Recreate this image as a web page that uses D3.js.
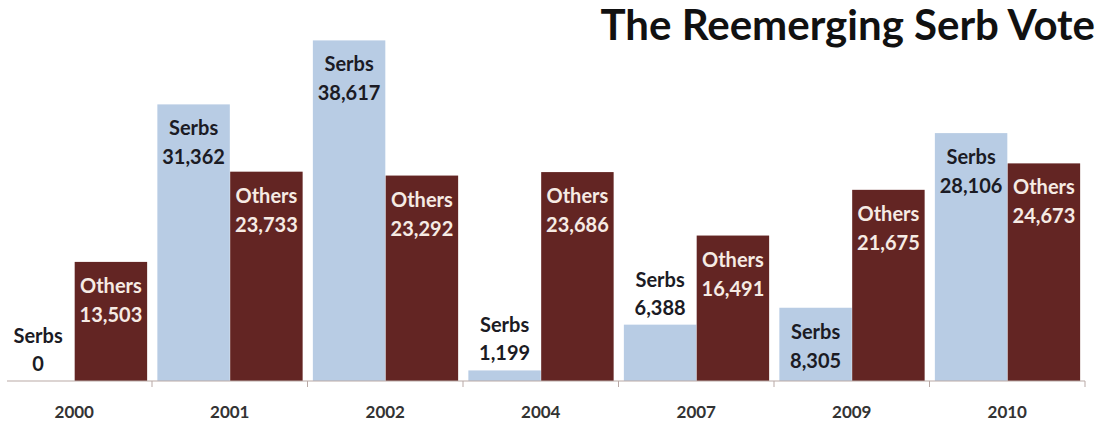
<!DOCTYPE html>
<html>
<head>
<meta charset="utf-8">
<script src="https://cdn.jsdelivr.net/npm/d3@7"></script>
<style>
  html, body { margin: 0; padding: 0; background: #ffffff; }
  svg { display: block; }
  text { font-family: Lato, "Open Sans", sans-serif; font-weight: bold; }
</style>
</head>
<body>
<svg id="chart" width="1103" height="424"></svg>
<script>
// Election years and vote counts
const years = ["2000", "2001", "2002", "2004", "2007", "2009", "2010"];
const seriesNames = ["Serbs", "Others"];
const serbsVotes = [0, 31362, 38617, 1199, 6388, 8305, 28106];
const othersVotes = [13503, 23733, 23292, 23686, 16491, 21675, 24673];
const chartTitle = "The Reemerging Serb Vote";

const rows = years.map((yr, i) => ({
  year: yr,
  values: [
    { key: "Serbs", value: serbsVotes[i] },
    { key: "Others", value: othersVotes[i] }
  ]
}));

const svg = d3.select("#chart");
const baseY = 381;

const x0 = d3.scaleBand().domain(years).range([-3.5, 1085]).paddingInner(0).paddingOuter(0);
const x1 = d3.scaleBand().domain(seriesNames).range([5, x0.bandwidth() - 4.5]).padding(0.005);
const y = d3.scaleLinear().domain([0, 40000]).range([baseY, baseY - 352.8]);

const fill = d3.scaleOrdinal().domain(seriesNames).range(["#b8cce4", "#632523"]);
const labelFill = d3.scaleOrdinal().domain(seriesNames).range(["#1b1b24", "#f6ebe4"]);

// Title
svg.append("text")
  .attr("x", 1095)
  .attr("y", 40)
  .attr("text-anchor", "end")
  .attr("fill", "#111111")
  .style("font-size", "42px")
  .text(chartTitle);

// Bars
const groups = svg.append("g").selectAll("g")
  .data(rows)
  .join("g")
  .attr("transform", d => `translate(${x0(d.year)},0)`);

groups.selectAll("rect")
  .data(d => d.values)
  .join("rect")
  .attr("x", d => x1(d.key))
  .attr("y", d => y(d.value))
  .attr("width", x1.bandwidth())
  .attr("height", d => y(0) - y(d.value))
  .attr("fill", d => fill(d.key));

// Two-line data labels: inside the top of tall bars, above short bars
groups.selectAll("g.lbl")
  .data(d => d.values)
  .join("g")
  .attr("class", "lbl")
  .each(function (d) {
    const top = y(d.value);
    const inside = (y(0) - top) >= 65;
    const b1 = inside ? top + 31 : top - 38;
    const b2 = inside ? top + 60 : top - 10;
    const cx = x1(d.key) + x1.bandwidth() / 2;
    const col = inside ? labelFill(d.key) : "#1b1b24";
    const g = d3.select(this);
    g.append("text")
      .attr("x", cx).attr("y", b1)
      .attr("text-anchor", "middle")
      .attr("fill", col)
      .style("font-size", "20px")
      .text(d.key);
    g.append("text")
      .attr("x", cx).attr("y", b2)
      .attr("text-anchor", "middle")
      .attr("fill", col)
      .style("font-size", "20px")
      .text(d3.format(",")(d.value));
  });

// Category axis
const axisG = svg.append("g").attr("transform", `translate(0,${baseY})`);
axisG.append("line")
  .attr("x1", 7).attr("x2", x0.range()[1])
  .attr("stroke", "#b9a9a6").attr("stroke-width", 1.2);

const tickXs = years.slice(1).map(yr => x0(yr)).concat([x0.range()[1]]);
axisG.selectAll("line.tick")
  .data(tickXs)
  .join("line")
  .attr("class", "tick")
  .attr("x1", d => d).attr("x2", d => d)
  .attr("y1", 0).attr("y2", 6)
  .attr("stroke", "#b9a9a6").attr("stroke-width", 1);

axisG.selectAll("text.yr")
  .data(years)
  .join("text")
  .attr("class", "yr")
  .attr("x", d => x0(d) + x0.bandwidth() / 2)
  .attr("y", 37)
  .attr("text-anchor", "middle")
  .attr("fill", "#333333")
  .style("font-size", "17px")
  .text(d => d);
</script>
</body>
</html>
